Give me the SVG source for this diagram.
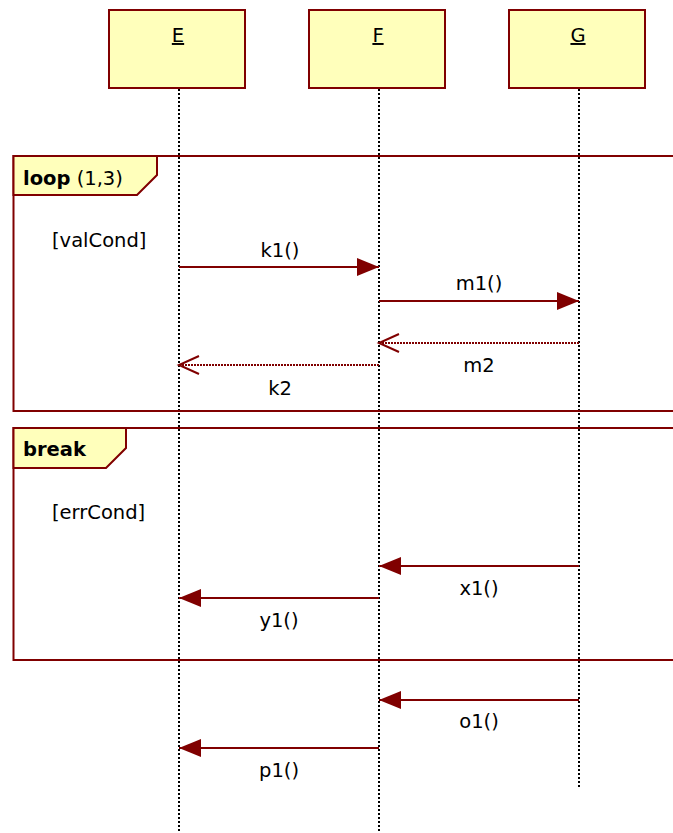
<svg xmlns="http://www.w3.org/2000/svg" width="673" height="833" viewBox="0 0 673 833">
<style>
.box{fill:#ffffbb;stroke:#800000;stroke-width:2}
.life{stroke:#000;stroke-width:2;stroke-dasharray:2,2;fill:none}
.frame{fill:none;stroke:#800000;stroke-width:2}
.tab{fill:#ffffbb;stroke:#800000;stroke-width:2}
.msg{stroke:#800000;stroke-width:2;fill:none}
.ret{stroke:#800000;stroke-width:2;stroke-dasharray:2,1;fill:none}
text{font-family:"DejaVu Sans",Verdana,sans-serif;font-size:19.5px;fill:#000}
.c{text-anchor:middle}
.b{font-weight:bold}
</style>
<defs>
<marker id="fill" markerUnits="userSpaceOnUse" markerWidth="24" markerHeight="20" refX="22" refY="9" orient="auto">
<path d="M0,0 L22,9 L0,18 Z" fill="#800000"/>
</marker>
<marker id="open" markerUnits="userSpaceOnUse" markerWidth="24" markerHeight="22" refX="21" refY="10" orient="auto">
<path d="M1,1 L21,10 L1,19" fill="none" stroke="#800000" stroke-width="2"/>
</marker>
</defs>
<g id="lifelines">
<line class="life" x1="179" y1="89" x2="179" y2="833"/>
<line class="life" x1="379" y1="89" x2="379" y2="833"/>
<line class="life" x1="579" y1="89" x2="579" y2="788"/>
</g>
<g id="E"><rect class="box" x="109" y="10" width="136" height="78"/><text class="c" x="178" y="42" text-decoration="underline">E</text></g>
<g id="F"><rect class="box" x="309" y="10" width="136" height="78"/><text class="c" x="378" y="42" text-decoration="underline">F</text></g>
<g id="G"><rect class="box" x="509" y="10" width="136" height="78"/><text class="c" x="578" y="42" text-decoration="underline">G</text></g>
<g id="loop">
<rect class="frame" x="13.5" y="156" width="700" height="255"/>
<path class="tab" d="M13.5,156 H157 V175 L137,195 H13.5 Z"/>
<text x="23" y="185"><tspan class="b">loop</tspan> (1,3)</text>
<text x="52" y="247">[valCond]</text>
</g>
<g id="break">
<rect class="frame" x="13.5" y="428" width="700" height="232"/>
<path class="tab" d="M13.5,428 H126 V448 L106,468 H13.5 Z"/>
<text class="b" x="23" y="456">break</text>
<text x="52" y="519">[errCond]</text>
</g>
<g id="connectors">
<line class="msg" x1="179" y1="267" x2="379" y2="267" marker-end="url(#fill)"/>
<line class="msg" x1="379" y1="301" x2="579" y2="301" marker-end="url(#fill)"/>
<line class="ret" x1="579" y1="343" x2="379" y2="343" marker-end="url(#open)"/>
<line class="ret" x1="379" y1="365" x2="179" y2="365" marker-end="url(#open)"/>
<line class="msg" x1="579" y1="566" x2="379" y2="566" marker-end="url(#fill)"/>
<line class="msg" x1="379" y1="598" x2="179" y2="598" marker-end="url(#fill)"/>
<line class="msg" x1="579" y1="700" x2="379" y2="700" marker-end="url(#fill)"/>
<line class="msg" x1="379" y1="748" x2="179" y2="748" marker-end="url(#fill)"/>
</g>
<g id="labels">
<text class="c" x="280" y="257">k1()</text>
<text class="c" x="479" y="290">m1()</text>
<text class="c" x="479" y="372">m2</text>
<text class="c" x="280" y="395">k2</text>
<text class="c" x="479" y="595">x1()</text>
<text class="c" x="279" y="627">y1()</text>
<text class="c" x="479" y="728">o1()</text>
<text class="c" x="279" y="777">p1()</text>
</g>
</svg>
